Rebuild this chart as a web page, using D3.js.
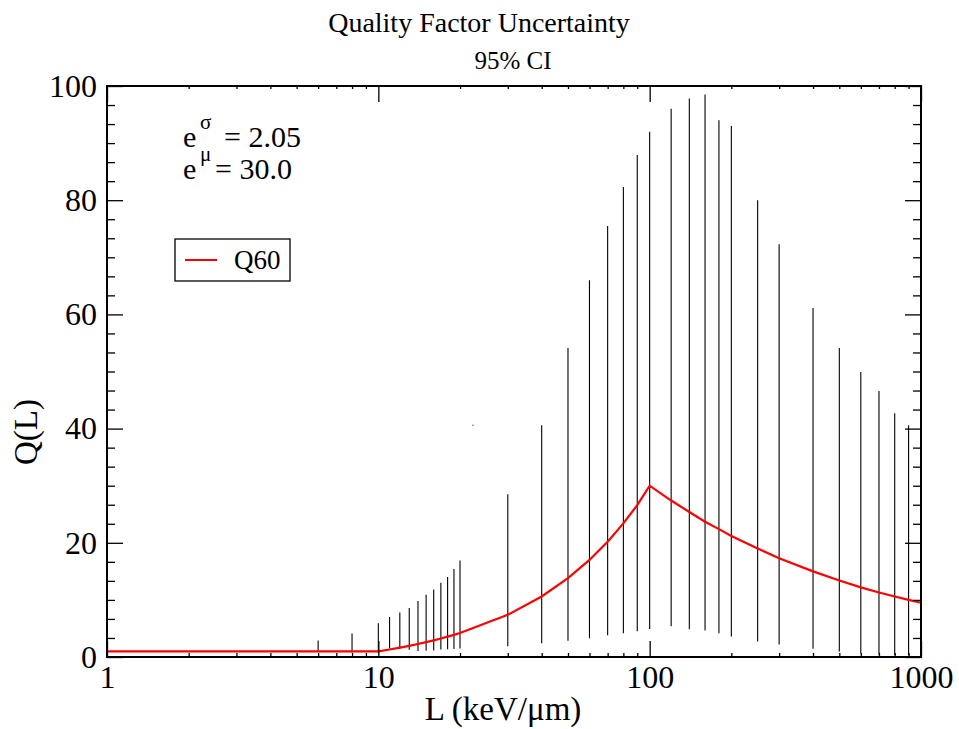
<!DOCTYPE html>
<html>
<head>
<meta charset="utf-8">
<script src="https://cdn.jsdelivr.net/npm/d3@7"></script>
<style>
  body { margin: 0; background: #fff; }
  svg, svg text { font-family: "Liberation Serif", "Times New Roman", serif; }
</style>
</head>
<body>
<div id="chart"></div>
<script>
// error bars (95% CI)
var barL    = [6, 8, 10, 11, 12, 13, 14, 15, 16, 17, 18, 19, 20,
               30, 40, 50, 60, 70, 80, 90, 100,
               120, 140, 160, 180, 200, 250, 300, 400, 500, 600, 700, 800, 900];
var barLow  = [0.9, 0.8, 0.7, 1.5, 1.4, 1.25, 1.05, 1.1, 1.15, 1.3, 1.35, 1.4, 1.5,
               1.9, 2.4, 2.85, 3.3, 3.8, 4.15, 4.5, 4.9,
               5.4, 4.85, 4.65, 4.15, 3.6, 2.7, 2.2, 1.45, 0.95, 0.6, 0.4, 0.35, 0.3];
var barHigh = [2.9, 4.1, 5.9, 7.0, 7.8, 8.6, 9.8, 10.9, 11.8, 13.0, 14.0, 15.4, 16.9,
               28.5, 40.6, 54.1, 66.0, 75.5, 82.3, 87.9, 92.0,
               96.0, 97.8, 98.5, 94.0, 93.0, 80.0, 72.3, 61.1, 54.1, 49.9, 46.6, 42.7, 40.6];

// stray point near L = 22
var strayL = [22.3];
var strayQ = [40.6];

// Q60 curve
var qL   = [1, 10, 11, 12, 13, 14, 15, 16, 17, 18, 19, 20, 30, 40, 50, 60, 70, 80, 90, 100,
            120, 140, 160, 180, 200, 250, 300, 400, 500, 600, 700, 800, 900, 1000];
var qVal = [1, 1, 1.32, 1.64, 1.96, 2.28, 2.6, 2.92, 3.24, 3.56, 3.88, 4.2, 7.4, 10.6, 13.8, 17.0,
            20.2, 23.4, 26.6, 30.0, 27.4, 25.4, 23.7, 22.4, 21.2, 19.0, 17.3, 15.0, 13.4, 12.2,
            11.3, 10.6, 10.0, 9.5];

var xMajor = [1, 10, 100, 1000];
var yMajor = [0, 20, 40, 60, 80, 100];

var W = 959, H = 729;
var pLeft = 107, pRight = 921, pTop = 86, pBottom = 657;

var svg = d3.select("#chart").append("svg")
    .attr("width", W).attr("height", H);

var x = d3.scaleLog().domain([1, 1000]).range([pLeft, pRight]);
var y = d3.scaleLinear().domain([0, 100]).range([pBottom, pTop]);

// minor tick values
var xMinor = [];
for (var d = 1; d < 1000; d *= 10) {
    for (var k = 2; k <= 9; k++) xMinor.push(d * k);
}
var yMinor = [];
for (var i = 0; i < 100; i += 20) {
    for (var j = 1; j <= 5; j++) yMinor.push(i + j * 20 / 6);
}

// error bars
svg.append("g").selectAll("line")
    .data(barL)
    .enter().append("line")
    .attr("x1", function(d) { return x(d); })
    .attr("x2", function(d) { return x(d); })
    .attr("y1", function(d, i) { return y(barLow[i]); })
    .attr("y2", function(d, i) { return y(barHigh[i]); })
    .attr("stroke", "#000")
    .attr("stroke-width", 1.1);

svg.append("g").selectAll("rect")
    .data(strayL)
    .enter().append("rect")
    .attr("x", function(d) { return x(d) - 0.5; })
    .attr("y", function(d, i) { return y(strayQ[i]) - 0.5; })
    .attr("width", 1.2).attr("height", 1.2)
    .attr("fill", "#444");

// Q60 line
var line = d3.line()
    .x(function(d) { return x(d); })
    .y(function(d, i) { return y(qVal[i]); });

svg.append("path")
    .datum(qL)
    .attr("d", line)
    .attr("fill", "none")
    .attr("stroke", "#ff0000")
    .attr("stroke-width", 2.2);

// axes: inward ticks on all four sides
function styleAxis(g) {
    g.attr("font-family", null).attr("font-size", null);
    g.select(".domain").remove();
    g.selectAll(".tick line").attr("stroke", "#000").attr("stroke-width", 1.3);
}

svg.append("g")
    .attr("transform", "translate(0," + pBottom + ")")
    .call(d3.axisBottom(x).tickValues(xMajor).tickSize(-16)
          .tickFormat(d3.format("d")))
    .call(styleAxis)
    .selectAll("text")
    .attr("fill", "#000")
    .style("font-size", "32px")
    .attr("y", 8).attr("dy", "0.71em");

svg.append("g")
    .attr("transform", "translate(0," + pBottom + ")")
    .call(d3.axisBottom(x).tickValues(xMinor).tickSize(-4).tickFormat(""))
    .call(styleAxis);

svg.append("g")
    .attr("transform", "translate(0," + pTop + ")")
    .call(d3.axisTop(x).tickValues(xMajor).tickSize(-16).tickFormat(""))
    .call(styleAxis);

svg.append("g")
    .attr("transform", "translate(0," + pTop + ")")
    .call(d3.axisTop(x).tickValues(xMinor).tickSize(-3).tickFormat(""))
    .call(styleAxis);

svg.append("g")
    .attr("transform", "translate(" + pLeft + ",0)")
    .call(d3.axisLeft(y).tickValues(yMajor).tickSize(-16).tickFormat(d3.format("d")))
    .call(styleAxis)
    .selectAll("text")
    .attr("fill", "#000")
    .style("font-size", "32px")
    .attr("x", -10);

svg.append("g")
    .attr("transform", "translate(" + pLeft + ",0)")
    .call(d3.axisLeft(y).tickValues(yMinor).tickSize(-8).tickFormat(""))
    .call(styleAxis);

svg.append("g")
    .attr("transform", "translate(" + pRight + ",0)")
    .call(d3.axisRight(y).tickValues(yMajor).tickSize(-16).tickFormat(""))
    .call(styleAxis);

svg.append("g")
    .attr("transform", "translate(" + pRight + ",0)")
    .call(d3.axisRight(y).tickValues(yMinor).tickSize(-8).tickFormat(""))
    .call(styleAxis);

// frame
svg.append("rect")
    .attr("x", pLeft).attr("y", pTop)
    .attr("width", pRight - pLeft).attr("height", pBottom - pTop)
    .attr("fill", "none")
    .attr("stroke", "#000")
    .attr("stroke-width", 2);

// titles
svg.append("text")
    .attr("x", 479).attr("y", 32)
    .attr("text-anchor", "middle")
    .style("font-size", "28px")
    .text("Quality Factor Uncertainty");

svg.append("text")
    .attr("x", 513).attr("y", 69)
    .attr("text-anchor", "middle")
    .style("font-size", "25px")
    .text("95% CI");

svg.append("text")
    .attr("x", 503).attr("y", 720)
    .attr("text-anchor", "middle")
    .style("font-size", "33px")
    .text("L (keV/\u03bcm)");

svg.append("text")
    .attr("transform", "translate(37,432) rotate(-90)")
    .attr("text-anchor", "middle")
    .style("font-size", "33px")
    .text("Q(L)");

// annotations
function annotation(yPos, sup, rest, restX) {
    svg.append("text").attr("x", 183).attr("y", yPos).style("font-size", "30px").text("e");
    svg.append("text").attr("x", 200).attr("y", yPos - 18).style("font-size", "21px").text(sup);
    svg.append("text").attr("x", restX).attr("y", yPos).style("font-size", "30px").text(rest);
}
annotation(147, "\u03c3", "= 2.05", 224);
annotation(179, "\u03bc", "= 30.0", 215);

// legend
svg.append("rect")
    .attr("x", 175).attr("y", 239)
    .attr("width", 115).attr("height", 42)
    .attr("fill", "#fff")
    .attr("stroke", "#000")
    .attr("stroke-width", 1.3);

svg.append("line")
    .attr("x1", 185).attr("x2", 217)
    .attr("y1", 260).attr("y2", 260)
    .attr("stroke", "#ff0000")
    .attr("stroke-width", 2);

svg.append("text")
    .attr("x", 234).attr("y", 269)
    .style("font-size", "27px")
    .text("Q60");
</script>
</body>
</html>
